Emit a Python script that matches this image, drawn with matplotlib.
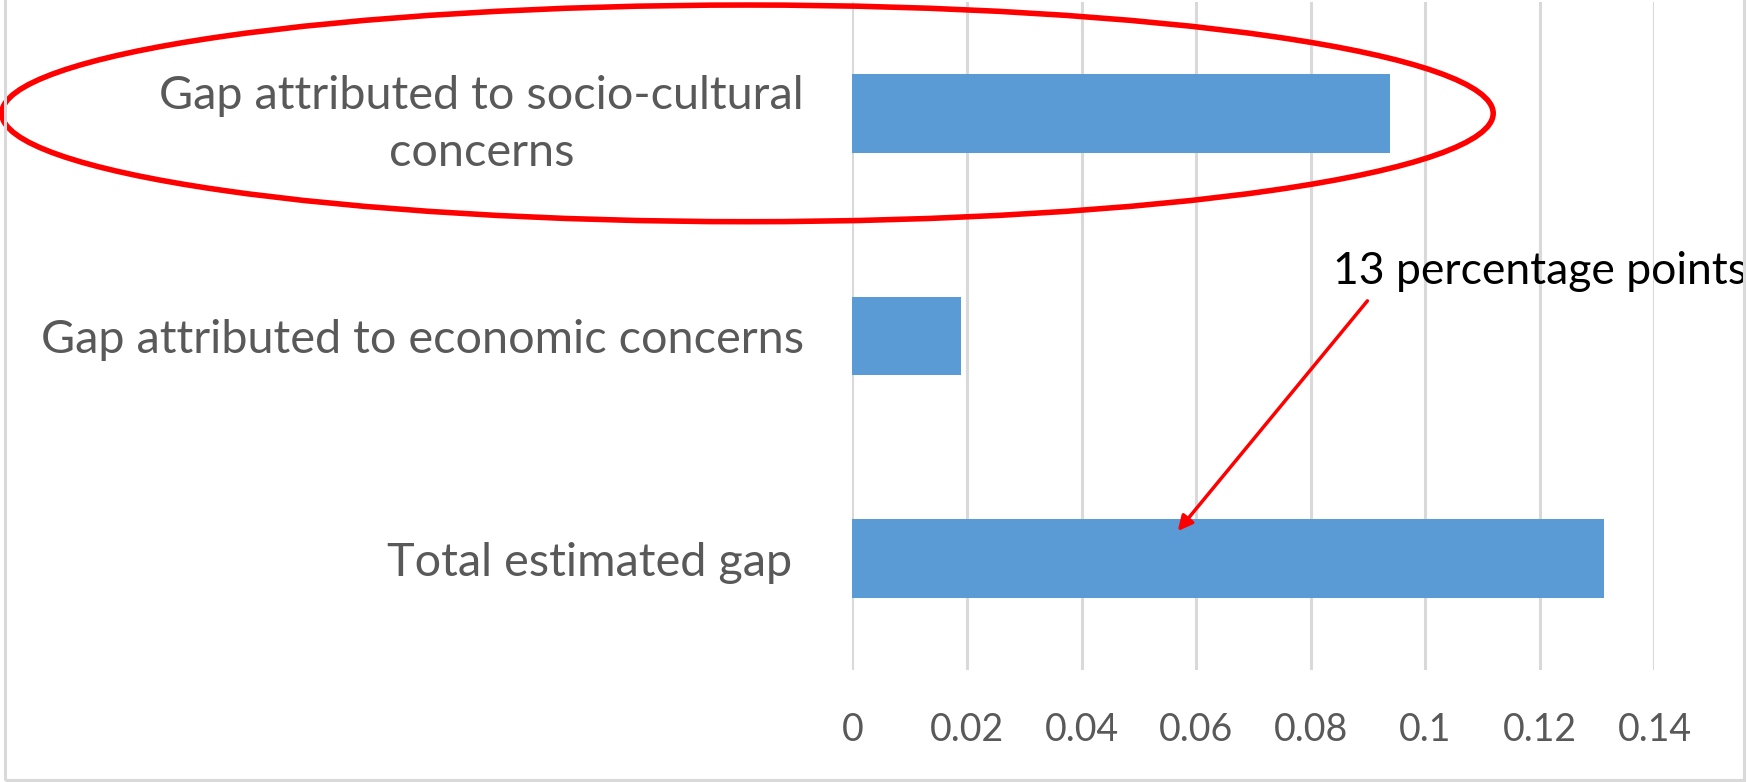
import matplotlib
matplotlib.use("Agg")
import matplotlib.pyplot as plt
from matplotlib.patches import Ellipse, Rectangle

# data (top to bottom)
categories = ["Gap attributed to socio-cultural\nconcerns",
              "Gap attributed to economic concerns",
              "Total estimated gap "]
gap_values = [0.0939, 0.0190, 0.1312]
x_ticks = [0, 0.02, 0.04, 0.06, 0.08, 0.1, 0.12, 0.14]
x_tick_labels = ["0", "0.02", "0.04", "0.06", "0.08", "0.1", "0.12", "0.14"]

plt.rcParams['font.family'] = ['Lato', 'DejaVu Sans']

fig = plt.figure(figsize=(17.48, 7.82), dpi=100)
ax = fig.add_axes([0.4876, 0.1432, 0.4589, 0.8542])

# gridlines
ax.set_axisbelow(True)
ax.grid(axis='x', color='#D9D9D9', lw=2.2)
ax.grid(axis='y', visible=False)

pos = list(range(len(categories)))
ax.barh(pos, gap_values, height=0.354, color='#5B9BD5', zorder=2)

ax.set_xlim(0, 0.14)
ax.set_ylim(2.5, -0.5)
ax.set_xticks(x_ticks)
ax.set_xticklabels(x_tick_labels, fontsize=27, color='#595959')
ax.set_yticks(pos)
ax.set_yticklabels(categories, fontsize=33.7, color='#595959')
for t in ax.get_yticklabels():
    t.set_multialignment('center')
    t.set_linespacing(1.42)
ax.tick_params(axis='x', length=0, pad=30)
ax.tick_params(axis='y', length=0, pad=35)
for s in ax.spines.values():
    s.set_visible(False)

# red ellipse round the first category
ax.add_patch(Ellipse((-0.0183, 0.0), 0.2603, 0.973, fill=False,
                     edgecolor='#FF0000', lw=4.0, clip_on=False, zorder=5))

# arrow + note
ax.annotate("", xy=(0.0568, 1.876), xytext=(0.0899, 0.842),
            arrowprops=dict(arrowstyle='-|>', color='#FF0000', lw=2.5,
                            mutation_scale=22, shrinkA=0, shrinkB=0),
            annotation_clip=False, zorder=6)
ax.text(0.0839, 0.767, "13 percentage points", fontsize=32, color='black',
        ha='left', va='baseline', clip_on=False)

# outer chart border
fig.patches.append(Rectangle((5 / 1748, 2 / 782), 1739 / 1748, 1.1,
                             transform=fig.transFigure, fill=False,
                             edgecolor='#D9D9D9', lw=2.2))

plt.savefig('out.png', dpi=100)
